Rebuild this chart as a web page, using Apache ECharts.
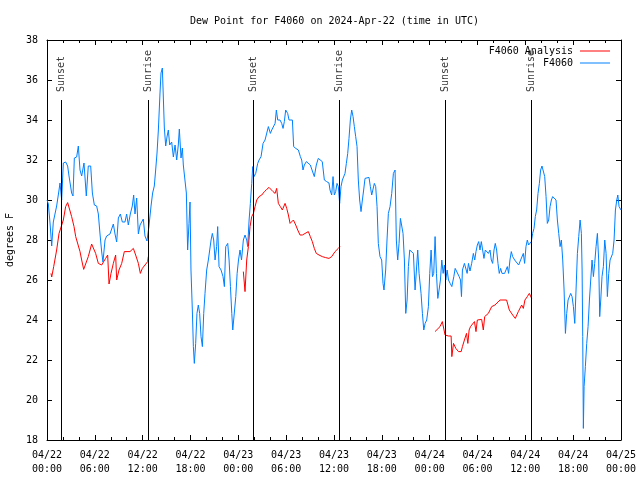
<!DOCTYPE html>
<html><head><meta charset="utf-8">
<script src="https://cdn.jsdelivr.net/npm/echarts@6/dist/echarts.min.js"></script>
<style>html,body{margin:0;padding:0;background:#fff}#c{width:640px;height:480px}</style>
</head><body><div id="c"></div>
<script>
const titleText = 'Dew Point for F4060 on 2024-Apr-22 (time in UTC)';
const yAxisName = 'degrees F';
const xTickLabels = ['04/22\n00:00','04/22\n06:00','04/22\n12:00','04/22\n18:00','04/23\n00:00','04/23\n06:00','04/23\n12:00','04/23\n18:00','04/24\n00:00','04/24\n06:00','04/24\n12:00','04/24\n18:00','04/25\n00:00'];
const blueName = 'F4060';
const redName = 'F4060 Analysis';
// [hours since 04/22 00:00 UTC, degrees F]
const blueData = [
[0,30.0],[0.17,29.8],[0.38,28.85],[0.59,27.7],[0.79,28.9],[1.0,28.85],[1.21,29.7],[1.51,30.5],[1.63,30.85],[1.84,30.0],
[2.05,31.85],[2.34,31.9],[2.59,31.7],[2.76,31.2],[3.09,30.35],[3.26,30.2],[3.43,32.1],[3.72,32.15],[3.93,32.7],[4.14,31.5],
[4.35,31.2],[4.64,31.85],[4.85,31.9],[4.93,30.2],[5.18,31.7],[5.48,31.7],[5.69,30.35],[5.94,29.75],[6.23,29.7],[6.44,29.3],
[6.65,28.3],[6.86,27.4],[7.02,26.9],[7.28,28.0],[7.48,28.2],[7.90,28.3],[8.32,28.8],[8.53,28.3],[8.74,27.9],[8.95,29.1],
[9.20,29.3],[9.45,28.9],[9.78,28.9],[9.99,29.3],[10.20,28.75],[10.45,29.3],[10.70,29.7],[10.87,30.25],[11.04,29.3],[11.25,30.1],
[11.46,28.3],[11.67,28.75],[11.88,28.85],[12.08,29.05],[12.29,28.2],[12.54,27.95],[12.79,28.7],[13.05,29.7],[13.25,30.35],[13.46,30.7],
[13.63,31.5],[13.80,32.35],[13.97,33.5],[14.17,35.3],[14.30,36.35],[14.47,36.6],[14.59,35.15],[14.72,33.6],[14.89,32.7],[15.05,33.15],
[15.22,33.5],[15.39,32.75],[15.64,32.9],[15.85,32.15],[16.06,32.75],[16.27,32.0],[16.47,32.75],[16.60,33.55],[16.81,32.1],[16.98,32.6],
[17.10,31.75],[17.31,31.85],[17.48,30.35],[17.64,27.5],[17.81,28.83],[17.94,29.9],[18.06,26.5],[18.23,24.5],[18.36,22.67],[18.48,21.83],
[18.65,22.83],[18.81,24.33],[18.98,24.75],[19.15,24.33],[19.32,23.17],[19.49,22.67],[19.66,24.33],[19.82,25.33],[20.03,26.5],[20.24,27.0],
[20.45,27.0],[20.58,28.0],[20.74,28.33],[20.91,28.0],[21.08,27.0],[21.28,27.67],[21.41,28.67],[21.58,26.67],[21.83,26.5],[22.08,26.17],
[22.25,25.67],[22.42,27.67],[22.67,27.83],[22.84,27.0],[23.01,25.67],[23.18,24.33],[23.30,23.5],[23.51,23.5],[23.68,25.17],[23.85,26.33],
[24.02,27.0],[24.21,27.5],[24.40,27.0],[24.63,28.0],[24.84,28.25],[25.05,28.0],[25.17,27.67],[25.35,29.0],[25.51,29.83],[25.68,30.83],
[25.80,31.67],[25.97,31.17],[26.18,31.33],[26.43,31.83],[26.60,32.0],[26.85,32.17],[27.10,32.83],[27.35,33.0],[27.60,33.0],[27.77,33.67],
[28.02,33.33],[28.19,33.5],[28.40,33.58],[28.61,33.83],[28.77,34.5],[28.94,34.0],[29.23,34.0],[29.44,33.83],[29.61,33.58],[29.77,33.92],
[29.94,34.5],[30.19,34.33],[30.36,34.0],[30.61,34.0],[30.78,34.0],[30.94,32.67],[31.20,32.58],[31.53,32.5],[31.78,32.17],[31.95,32.0],
[32.11,31.5],[32.28,31.75],[32.53,31.92],[32.78,31.92],[33.03,31.75],[33.28,31.67],[33.53,31.17],[33.78,31.75],[34.03,32.08],[34.28,32.08],
[34.53,31.92],[34.79,31.0],[35.08,30.92],[35.37,30.85],[35.50,30.5],[35.71,30.25],[35.88,31.17],[36.04,30.25],[36.21,30.42],[36.38,30.83],
[36.54,30.67],[36.71,29.83],[36.88,30.67],[37.05,31.0],[37.21,31.08],[37.38,31.33],[37.55,31.83],[37.72,32.33],[37.88,33.08],[38.05,34.0],
[38.22,34.5],[38.39,34.17],[38.55,33.67],[38.72,33.17],[38.89,32.67],[39.05,31.0],[39.22,30.0],[39.39,29.42],[39.56,30.0],[39.72,30.5],
[39.89,31.08],[40.14,31.13],[40.39,31.13],[40.56,30.67],[40.73,30.25],[40.93,30.25],[41.06,30.83],[41.23,30.67],[41.40,29.67],[41.56,27.83],
[41.77,27.17],[41.98,27.0],[42.15,25.83],[42.27,25.5],[42.48,26.5],[42.65,28.0],[42.82,29.33],[43.03,29.67],[43.24,30.33],[43.45,31.33],
[43.66,31.5],[43.82,28.0],[43.99,27.0],[44.16,27.83],[44.33,29.08],[44.50,29.0],[44.66,28.33],[44.83,27.0],[45.00,24.33],[45.17,25.0],
[45.33,26.67],[45.50,27.5],[45.75,27.5],[45.96,27.33],[46.17,25.5],[46.34,26.5],[46.50,27.5],[46.67,26.33],[46.92,25.33],[47.09,24.33],
[47.26,23.5],[47.43,23.83],[47.63,24.0],[47.84,24.67],[48.01,26.33],[48.18,27.5],[48.35,26.17],[48.51,26.33],[48.68,28.17],[48.85,26.33],
[49.02,25.08],[49.18,25.5],[49.35,26.0],[49.52,27.0],[49.69,26.33],[49.85,26.75],[50.02,26.0],[50.19,26.5],[50.36,26.0],[50.57,25.83],
[50.78,25.67],[51.03,26.17],[51.20,26.58],[51.45,26.5],[51.70,26.17],[51.87,26.0],[51.99,25.17],[52.11,26.5],[52.36,26.83],[52.53,26.92],
[52.70,26.33],[52.87,26.83],[53.06,26.45],[53.27,26.83],[53.48,27.33],[53.65,27.0],[53.81,27.42],[53.98,27.75],[54.15,27.92],[54.31,27.5],
[54.48,27.92],[54.65,28.0],[54.81,27.08],[54.98,27.5],[55.15,27.5],[55.36,27.33],[55.57,27.5],[55.73,27.0],[55.90,26.83],[56.07,27.5],
[56.23,27.83],[56.40,27.5],[56.57,26.83],[56.73,26.33],[56.90,26.58],[57.07,26.33],[57.24,26.25],[57.40,26.33],[57.57,26.5],[57.74,26.67],
[57.90,26.33],[58.07,27.0],[58.24,27.42],[58.41,27.17],[58.66,27.0],[58.91,26.92],[59.16,26.75],[59.41,27.0],[59.58,27.08],[59.75,27.33],
[59.91,26.83],[60.08,27.67],[60.25,28.0],[60.41,27.75],[60.58,27.75],[60.75,27.92],[60.92,28.33],[61.09,28.58],[61.25,29.17],[61.42,29.5],
[61.59,30.33],[61.76,30.83],[61.92,31.5],[62.09,31.7],[62.26,31.67],[62.43,31.17],[62.60,30.17],[62.76,28.83],[62.93,29.0],[63.10,29.67],
[63.27,30.0],[63.43,30.17],[63.68,30.17],[63.85,30.0],[64.02,29.0],[64.19,28.33],[64.36,27.67],[64.52,28.0],[64.69,27.0],[64.86,25.5],
[65.03,23.33],[65.19,24.33],[65.36,25.0],[65.53,25.0],[65.69,25.33],[65.86,25.17],[66.03,24.67],[66.20,23.83],[66.36,25.5],[66.53,27.33],
[66.70,28.17],[66.87,29.0],[67.03,28.33],[67.12,26.5],[67.20,23.17],[67.28,18.58],[67.37,20.67],[67.53,21.67],[67.70,22.83],[67.87,23.67],
[68.04,25.0],[68.20,26.0],[68.37,27.0],[68.54,26.17],[68.70,26.83],[68.87,27.67],[69.04,28.33],[69.20,27.0],[69.33,24.17],[69.46,25.0],
[69.62,26.17],[69.79,26.67],[69.96,28.0],[70.13,27.33],[70.29,25.17],[70.46,26.33],[70.63,27.0],[70.80,27.08],[70.96,27.33],[71.13,28.0],
[71.30,29.5],[71.47,30.0],[71.60,30.25],[71.76,29.67],[72,29.5]
];
const redSeg1 = [
[0.50,26.33],[0.59,26.15],[0.84,26.67],[1.21,27.5],[1.51,28.33],[1.76,28.4],[2.05,29.0],[2.34,29.67],[2.59,29.87],[2.80,29.85],
[3.09,29.17],[3.39,28.67],[3.60,28.17],[3.85,28.1],[4.14,27.42],[4.35,27.0],[4.60,26.53],[4.85,26.53],[5.18,27.17],[5.60,27.8],
[5.85,27.75],[6.10,27.33],[6.44,26.83],[6.65,26.75],[6.86,26.75],[7.11,26.92],[7.36,27.08],[7.61,27.25],[7.78,25.8],[8.03,26.33],
[8.32,26.83],[8.61,27.25],[8.74,26.0],[9.03,26.5],[9.37,26.83],[9.70,27.42],[9.95,27.47],[10.41,27.42],[10.83,27.58],[11.12,27.25],
[11.46,26.83],[11.71,26.33],[11.96,26.58],[12.29,26.75],[12.63,26.92],[12.71,27.17]
];
const redSeg2 = [
[24.63,26.42],[24.84,25.42],[25.05,27.0],[25.26,27.67],[25.47,28.67],[25.68,29.17],[25.89,29.33],[26.10,29.67],[26.31,30.0],[26.60,30.17],
[26.94,30.25],[27.27,30.42],[27.56,30.53],[27.85,30.63],[28.10,30.53],[28.35,30.42],[28.61,30.33],[28.81,30.58],[29.02,29.83],[29.27,29.67],
[29.52,29.5],[29.69,29.42],[29.86,29.83],[30.07,29.58],[30.28,29.25],[30.49,28.83],[30.70,28.75],[30.91,29.0],[31.20,28.75],[31.45,28.5],
[31.74,28.25],[32.03,28.25],[32.28,28.33],[32.78,28.42],[33.03,28.17],[33.28,27.92],[33.53,27.58],[33.78,27.33],[34.12,27.25],[34.53,27.17],
[34.95,27.12],[35.37,27.08],[35.71,27.17],[36.13,27.42],[36.54,27.58],[36.75,27.67]
];
const redSeg3 = [
[48.67,23.42],[48.88,23.33],[49.30,23.67],[49.59,23.92],[49.76,24.0],[49.93,23.25],[50.36,23.2],[50.69,23.2],[50.78,22.17],[50.99,22.83],
[51.28,22.58],[51.62,22.42],[51.95,22.42],[52.11,22.67],[52.36,23.0],[52.62,23.33],[52.79,22.83],[52.95,23.5],[53.12,23.67],[53.37,23.75],
[53.62,23.92],[53.73,24.0],[53.81,23.42],[53.98,24.0],[54.52,24.03],[54.73,23.5],[54.90,24.17],[55.36,24.33],[55.78,24.67],[56.19,24.75],
[56.82,25.0],[57.65,25.0],[57.99,24.5],[58.41,24.25],[58.74,24.08],[59.12,24.42],[59.54,24.75],[59.75,24.58],[59.95,25.0],[60.25,25.17],
[60.50,25.33],[60.75,25.42],[60.79,25.08]
];
const sunTimes = [1.80, 12.71, 25.88, 36.67, 49.97, 60.75];
const sunLabels = ['Sunset','Sunrise','Sunset','Sunrise','Sunset','Sunrise'];
const sunLineTop = 35;
const sunLabelY = 35.4;

const FONT = 'DejaVu Sans Mono';
const txt = {fontFamily: FONT, fontSize: 10, color: '#000'};
const redData = [...redSeg1, [18, null], ...redSeg2, [42, null], ...redSeg3];

const chart = echarts.init(document.getElementById('c'), null, {renderer: 'canvas'});
const axisCommon = {
  type: 'value', min: 0, max: 72, interval: 6,
  axisLine: {show: true, onZero: false, lineStyle: {color: '#000', width: 1}},
  axisTick: {show: true, inside: true, length: 5, lineStyle: {color: '#000'}},
  minorTick: {show: true, splitNumber: 3, length: 3, lineStyle: {color: '#000'}},
  splitLine: {show: false}
};
const yCommon = {
  type: 'value', min: 18, max: 38, interval: 2,
  axisLine: {show: true, onZero: false, lineStyle: {color: '#000', width: 1}},
  axisTick: {show: true, inside: true, length: 5, lineStyle: {color: '#000'}},
  splitLine: {show: false}
};
chart.setOption({
  animation: false,
  backgroundColor: '#fff',
  title: {text: titleText, left: 185, top: 11, textStyle: Object.assign({fontWeight: 'normal'}, txt)},
  legend: {
    data: [redName, blueName], orient: 'vertical', right: 25, top: 41, align: 'right', icon: 'rect',
    itemWidth: 30, itemHeight: 1, itemGap: 2, textStyle: Object.assign({padding: [1, 2, 1, 0]}, txt)
  },
  grid: {left: 47, right: 19, top: 40, bottom: 40, containLabel: false, outerBoundsMode: 'none'},
  xAxis: [
    Object.assign({}, axisCommon, {position: 'bottom',
      axisLabel: Object.assign({margin: 8, lineHeight: 14, formatter: v => xTickLabels[Math.round(v / 6)]}, txt)}),
    Object.assign({}, axisCommon, {position: 'top', axisLabel: {show: false}})
  ],
  yAxis: [
    Object.assign({}, yCommon, {position: 'left', name: yAxisName, nameLocation: 'middle', nameRotate: 90, nameGap: 32,
      nameTextStyle: txt, axisLabel: Object.assign({margin: 9}, txt)}),
    Object.assign({}, yCommon, {position: 'right', axisLabel: {show: false}})
  ],
  series: [
    {name: redName, type: 'line', data: redData, symbol: 'none', showSymbol: false, connectNulls: false,
      lineStyle: {color: '#ff0000', width: 1}, itemStyle: {color: '#ff0000'}, z: 3},
    {name: blueName, type: 'line', data: blueData, symbol: 'none', showSymbol: false,
      lineStyle: {color: '#0080ff', width: 1}, itemStyle: {color: '#0080ff'}, z: 2},
    {name: 'sun', type: 'scatter', symbolSize: 0, silent: true, z: 4,
      data: sunTimes.map((h, i) => ({value: [h, sunLabelY], name: sunLabels[i]})),
      label: Object.assign({show: true, position: 'inside', rotate: 90, align: 'left', verticalAlign: 'middle',
        formatter: p => p.name}, txt),
      markLine: {silent: true, symbol: ['none', 'none'], label: {show: false},
        lineStyle: {color: '#000', width: 1, type: 'solid'},
        data: sunTimes.map(h => [{coord: [h, 18]}, {coord: [h, sunLineTop]}])}
    }
  ]
});
</script></body></html>
